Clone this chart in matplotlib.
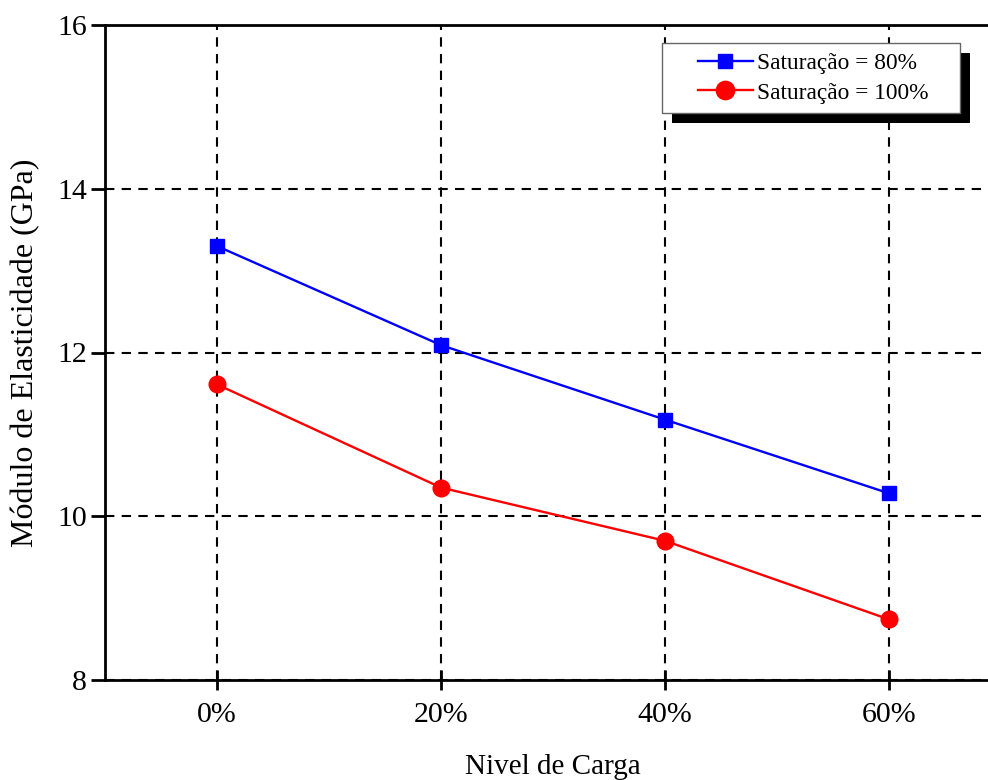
import numpy as np
import matplotlib
matplotlib.use("Agg")
import matplotlib.pyplot as plt
from matplotlib.patches import Rectangle

# ================================
# DATOS
# ================================
niveles = ["0%", "20%", "40%", "60%"]
sat_80 = [13.30, 12.09, 11.18, 10.28]
sat_100 = [11.61, 10.35, 9.70, 8.74]

plt.rcParams["font.family"] = ["Liberation Serif", "DejaVu Serif"]

W, H = 988, 780
fig = plt.figure(figsize=(W/100, H/100), dpi=100)
ax = fig.add_axes([105/W, 1 - 680/H, (1001 - 105)/W, (680 - 25)/H])

x = np.arange(len(niveles))
ax.plot(x, sat_80, color="blue", marker="s", markersize=9.5, lw=1.7,
        label="Saturação = 80%", zorder=3)
ax.plot(x, sat_100, color="red", marker="o", markersize=12, lw=1.7,
        label="Saturação = 100%", zorder=3)

ax.set_xlim(-0.5, 3.5)
ax.set_ylim(8, 16)
ax.set_xticks(x)
ax.set_xticklabels(niveles)
ax.set_yticks([8, 10, 12, 14, 16])

ax.grid(True, color="black", linestyle=(0, (4.5, 3.5)), lw=1.5)
ax.set_axisbelow(True)

for s in ["left", "bottom", "top", "right"]:
    ax.spines[s].set_linewidth(2)

ax.tick_params(axis="y", direction="out", length=10, width=2, labelsize=21.5, pad=3)
ax.tick_params(axis="x", direction="inout", length=15, width=2, labelsize=21.5, pad=8)

ax.set_xlabel("Nivel de Carga", fontsize=21, labelpad=19)
ax.set_ylabel("Módulo de Elasticidade (GPa)", fontsize=23, labelpad=12)

# Caja de la leyenda con sombra (en pixeles de la figura)
def caja(x0, y0, x1, y1, **kw):
    r = Rectangle((x0/W, 1 - y1/H), (x1 - x0)/W, (y1 - y0)/H,
                  transform=fig.transFigure, clip_on=False, **kw)
    ax.add_artist(r)

caja(672, 53, 970, 123, facecolor="black", edgecolor="none", zorder=4)
caja(662, 43, 960, 113, facecolor="white", edgecolor="0.4", lw=1, zorder=4.5)

leg = ax.legend(loc="center", bbox_to_anchor=(813/W, 1 - 78/H),
                bbox_transform=fig.transFigure, borderaxespad=0, frameon=False,
                fontsize=16.8, handlelength=2.35, handletextpad=0.18,
                borderpad=0, labelspacing=0.36, markerscale=1.1)
leg.set_zorder(5)

fig.savefig("out.png", dpi=100)
